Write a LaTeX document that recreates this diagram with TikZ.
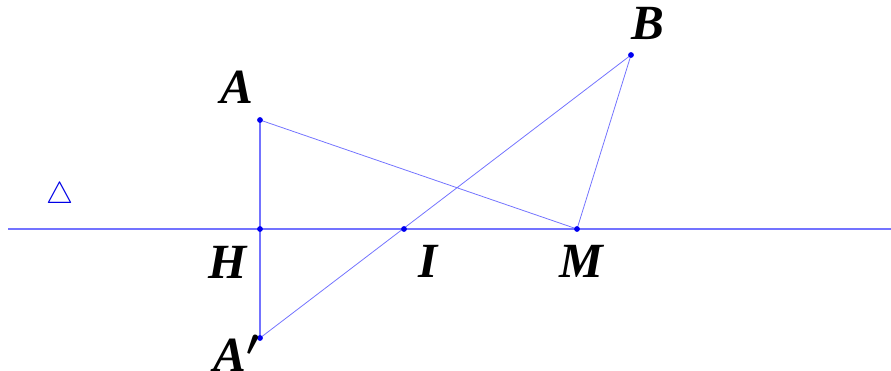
\documentclass[tikz,border=0pt]{standalone}
\usepackage{fontspec}
\setmainfont{Liberation Serif}
\usepackage{tikz}
\usetikzlibrary{positioning,calc}
\definecolor{ln}{HTML}{7373FF}
\definecolor{pt}{HTML}{0000F0}
\definecolor{dl}{HTML}{0000E6}
\tikzset{
  lbl/.style={font=\fontsize{28}{32}\selectfont\bfseries\itshape\boldmath,anchor=base,inner sep=0pt},
  thk/.style={ln,line width=0.8pt},
  thn/.style={ln,line width=0.45pt},
  dot/.style={fill=pt}
}

\begin{document}
\begin{tikzpicture}[x=0.02cm,y=-0.02cm]
  \useasboundingbox (0,0) rectangle (891,371);
  % points
  \coordinate (L) at (8,229);
  \coordinate (R) at (891,229);
  \coordinate (H) at (260,229);
  \coordinate (A) at (260,120);
  \coordinate (A1) at (260,338);
  \coordinate (I) at (404,229);
  \coordinate (M) at (577,229);
  \coordinate (B) at (631,55);
  % lines
  \draw[thk] (L) -- (R);
  \draw[thk] (A) -- (A1);
  \draw[thn] (A) -- (M) -- (B) -- (A1);
  \foreach \p in {A,A1,H,I,M,B}
    \fill[dot] (\p) circle (2.9);
  % labels
  \node[lbl] (lA) at (237,104) {A};
  \node[lbl] (lB) at (648,40) {B};
  \node[lbl] (lH) at (228,278) {H};
  \node[lbl] (lI) at (428,277) {I};
  \node[lbl] (lM) at (581,277) {M};
  \node[lbl] (lA1) at (237,371) {A$'$};
  \node[dl,inner sep=0pt,font=\fontsize{19}{19}\selectfont] (dt) at (60,196) {$\triangle$};
\end{tikzpicture}
\end{document}
